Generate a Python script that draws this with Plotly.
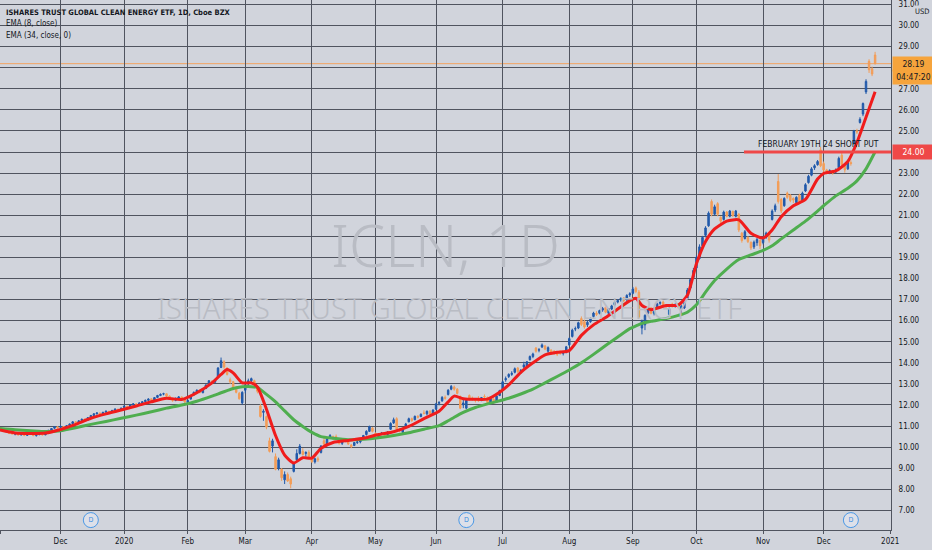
import pandas as pd
import plotly.graph_objects as go

# exchange holidays inside the visible window (no bar on these days)
holidays = ["2019-11-28", "2019-12-25", "2020-01-01", "2020-01-20", "2020-02-17",
            "2020-04-10", "2020-05-25", "2020-07-03", "2020-09-07", "2020-11-26"]
dates = pd.bdate_range("2019-11-01", "2020-12-24")
dates = dates[~dates.isin(pd.to_datetime(holidays))]

# daily candles: (open, high, low, close)
nov_2019 = [(10.90, 10.95, 10.80, 10.85), (10.86, 10.90, 10.76, 10.80), (10.80, 10.84, 10.70, 10.74),
            (10.72, 10.76, 10.62, 10.66), (10.68, 10.72, 10.60, 10.63), (10.62, 10.68, 10.56, 10.64),
            (10.64, 10.66, 10.55, 10.58), (10.58, 10.66, 10.55, 10.63), (10.62, 10.64, 10.52, 10.56),
            (10.56, 10.64, 10.53, 10.62), (10.63, 10.68, 10.58, 10.60), (10.60, 10.63, 10.52, 10.55),
            (10.55, 10.62, 10.50, 10.60), (10.60, 10.66, 10.56, 10.64), (10.64, 10.67, 10.55, 10.58),
            (10.58, 10.72, 10.57, 10.70), (10.72, 10.82, 10.70, 10.80), (10.80, 10.90, 10.78, 10.88),
            (10.90, 11.00, 10.86, 10.97), (10.96, 10.99, 10.88, 10.92)]
dec_2019 = [(10.94, 11.05, 10.90, 10.98), (10.98, 11.00, 10.86, 10.90), (10.92, 11.05, 10.90, 11.02),
            (11.02, 11.12, 11.00, 11.10), (11.12, 11.24, 11.10, 11.20), (11.20, 11.23, 11.10, 11.14),
            (11.15, 11.28, 11.13, 11.25), (11.26, 11.36, 11.24, 11.32), (11.33, 11.35, 11.22, 11.27),
            (11.28, 11.43, 11.26, 11.40), (11.42, 11.53, 11.40, 11.50), (11.50, 11.62, 11.48, 11.58),
            (11.58, 11.66, 11.55, 11.62), (11.62, 11.64, 11.52, 11.55), (11.56, 11.68, 11.54, 11.65),
            (11.66, 11.74, 11.63, 11.70), (11.70, 11.72, 11.60, 11.64), (11.64, 11.77, 11.62, 11.74),
            (11.75, 11.84, 11.72, 11.80), (11.80, 11.82, 11.70, 11.74), (11.74, 11.88, 11.72, 11.85)]
jan_2020 = [(11.88, 11.98, 11.84, 11.95), (11.94, 11.96, 11.84, 11.89), (11.90, 12.03, 11.88, 12.00),
            (12.00, 12.08, 11.97, 12.05), (12.05, 12.08, 11.96, 12.01), (12.02, 12.13, 12.00, 12.10),
            (12.10, 12.18, 12.06, 12.15), (12.16, 12.26, 12.14, 12.22), (12.22, 12.32, 12.20, 12.28),
            (12.29, 12.31, 12.20, 12.24), (12.24, 12.38, 12.22, 12.35), (12.36, 12.48, 12.34, 12.45),
            (12.45, 12.55, 12.42, 12.50), (12.52, 12.58, 12.46, 12.53), (12.53, 12.55, 12.38, 12.42),
            (12.42, 12.46, 12.30, 12.36), (12.30, 12.34, 12.15, 12.22), (12.22, 12.35, 12.18, 12.32),
            (12.33, 12.42, 12.30, 12.38), (12.38, 12.40, 12.22, 12.26), (12.26, 12.30, 12.10, 12.15)]
feb_2020 = [(12.12, 12.25, 12.08, 12.22), (12.28, 12.48, 12.26, 12.45), (12.48, 12.64, 12.44, 12.60),
            (12.60, 12.74, 12.56, 12.70), (12.70, 12.72, 12.55, 12.60), (12.58, 12.78, 12.56, 12.75),
            (12.78, 12.98, 12.76, 12.95), (12.98, 13.18, 12.96, 13.15), (13.12, 13.18, 13.02, 13.08),
            (13.08, 13.24, 13.05, 13.20), (13.30, 13.80, 13.28, 13.75), (13.78, 14.25, 13.75, 14.10),
            (14.05, 14.12, 13.72, 13.80), (13.75, 13.80, 13.40, 13.45), (13.20, 13.30, 13.00, 13.10),
            (13.10, 13.14, 12.70, 12.75), (12.80, 12.90, 12.55, 12.60), (12.55, 12.62, 12.25, 12.30),
            (12.10, 12.65, 12.02, 12.60)]
mar_2020 = [(12.70, 13.00, 12.55, 12.95), (13.00, 13.25, 12.90, 13.15), (13.15, 13.30, 13.05, 13.25),
            (13.15, 13.20, 12.90, 12.98), (12.80, 12.90, 12.55, 12.65), (11.95, 12.05, 11.40, 11.45),
            (11.65, 11.80, 11.25, 11.70), (11.45, 11.50, 10.85, 10.95), (10.30, 10.45, 9.75, 9.80),
            (10.05, 10.40, 9.75, 10.30), (9.55, 9.70, 8.90, 8.95), (9.00, 9.50, 8.90, 9.40),
            (8.95, 9.00, 8.40, 8.55), (8.45, 8.85, 8.25, 8.70), (8.70, 8.80, 8.35, 8.40),
            (8.50, 8.60, 8.05, 8.25), (8.85, 9.30, 8.80, 9.25), (9.40, 9.90, 9.35, 9.70),
            (9.70, 10.15, 9.65, 10.05), (9.80, 9.95, 9.60, 9.65), (9.70, 9.80, 9.55, 9.75),
            (9.75, 9.85, 9.50, 9.55)]
apr_2020 = [(9.40, 9.50, 9.25, 9.32), (9.30, 9.50, 9.22, 9.45), (9.45, 9.55, 9.30, 9.40),
            (9.75, 10.10, 9.70, 10.05), (10.30, 10.45, 10.10, 10.15), (10.15, 10.45, 10.10, 10.40),
            (10.45, 10.62, 10.40, 10.55), (10.50, 10.55, 10.35, 10.45), (10.50, 10.60, 10.40, 10.48),
            (10.35, 10.40, 10.12, 10.18), (10.18, 10.30, 10.10, 10.25), (10.35, 10.40, 10.22, 10.30),
            (10.25, 10.28, 10.10, 10.15), (10.10, 10.15, 9.95, 10.02), (10.08, 10.25, 10.05, 10.22),
            (10.22, 10.32, 10.15, 10.25), (10.25, 10.35, 10.18, 10.32), (10.40, 10.58, 10.38, 10.55),
            (10.60, 10.80, 10.55, 10.75), (10.75, 11.02, 10.72, 10.98), (10.90, 10.95, 10.70, 10.75)]
may_2020 = [(10.65, 10.70, 10.48, 10.52), (10.50, 10.62, 10.45, 10.60), (10.65, 10.72, 10.58, 10.66),
            (10.66, 10.70, 10.52, 10.56), (10.60, 10.76, 10.56, 10.72), (10.85, 11.18, 10.82, 11.12),
            (11.15, 11.40, 11.10, 11.30), (11.35, 11.42, 10.80, 10.85), (10.85, 10.92, 10.70, 10.78),
            (10.70, 10.92, 10.62, 10.88), (11.00, 11.15, 10.95, 11.10), (11.20, 11.40, 11.18, 11.35),
            (11.35, 11.40, 11.20, 11.26), (11.30, 11.50, 11.28, 11.46), (11.46, 11.52, 11.36, 11.42),
            (11.45, 11.60, 11.42, 11.56), (11.62, 11.75, 11.55, 11.60), (11.58, 11.74, 11.50, 11.70),
            (11.70, 11.76, 11.55, 11.58), (11.58, 11.80, 11.55, 11.76)]
jun_2020 = [(11.80, 12.10, 11.78, 12.05), (12.08, 12.18, 11.98, 12.12), (12.20, 12.42, 12.15, 12.36),
            (12.36, 12.45, 12.25, 12.32), (12.50, 12.75, 12.45, 12.70), (12.75, 12.95, 12.70, 12.88),
            (12.85, 12.92, 12.68, 12.75), (12.75, 12.80, 12.50, 12.55), (12.40, 12.45, 11.80, 11.85),
            (12.00, 12.25, 11.85, 12.10), (11.85, 12.28, 11.80, 12.22), (12.45, 12.50, 12.20, 12.32),
            (12.32, 12.40, 12.20, 12.26), (12.24, 12.30, 12.12, 12.22), (12.30, 12.42, 12.15, 12.20),
            (12.22, 12.38, 12.18, 12.35), (12.40, 12.50, 12.30, 12.38), (12.35, 12.40, 12.05, 12.12),
            (12.10, 12.30, 12.05, 12.28), (12.28, 12.32, 12.05, 12.10), (12.15, 12.45, 12.12, 12.42),
            (12.45, 12.72, 12.42, 12.68)]
jul_2020 = [(12.75, 13.15, 12.72, 13.10), (13.20, 13.35, 13.10, 13.25), (13.35, 13.50, 13.28, 13.45),
            (13.45, 13.60, 13.38, 13.50), (13.55, 13.78, 13.50, 13.72), (13.75, 13.80, 13.52, 13.58),
            (13.58, 13.70, 13.48, 13.65), (13.80, 14.05, 13.75, 13.90), (13.85, 14.08, 13.80, 14.05),
            (14.15, 14.35, 14.10, 14.30), (14.30, 14.48, 14.22, 14.42), (14.70, 14.75, 14.48, 14.55),
            (14.60, 14.70, 14.50, 14.62), (14.75, 14.92, 14.70, 14.85), (14.80, 14.85, 14.60, 14.65),
            (14.55, 14.78, 14.48, 14.72), (14.60, 14.65, 14.40, 14.48), (14.55, 14.60, 14.38, 14.45),
            (14.50, 14.55, 14.32, 14.40), (14.50, 14.58, 14.38, 14.46), (14.45, 14.55, 14.35, 14.50),
            (14.50, 14.80, 14.45, 14.76)]
aug_2020 = [(14.85, 15.20, 14.80, 15.15), (15.25, 15.62, 15.20, 15.55), (15.60, 15.72, 15.50, 15.62),
            (15.65, 15.95, 15.60, 15.90), (16.10, 16.20, 15.75, 15.82), (15.95, 16.05, 15.62, 15.70),
            (15.80, 16.00, 15.70, 15.92), (15.95, 16.15, 15.90, 16.08), (16.20, 16.42, 16.15, 16.36),
            (16.35, 16.45, 16.22, 16.30), (16.35, 16.52, 16.30, 16.48), (16.50, 16.65, 16.42, 16.58),
            (16.62, 16.70, 16.35, 16.40), (16.35, 16.60, 16.30, 16.56), (16.55, 16.75, 16.50, 16.70),
            (16.75, 16.92, 16.70, 16.86), (16.88, 17.02, 16.82, 16.96), (16.98, 17.10, 16.90, 17.06),
            (17.08, 17.12, 16.88, 16.95), (16.98, 17.25, 16.95, 17.20), (17.22, 17.35, 17.12, 17.28)]
sep_2020 = [(17.30, 17.60, 17.25, 17.50), (17.55, 17.62, 17.30, 17.38), (17.35, 17.45, 16.10, 16.18),
            (15.65, 16.05, 15.35, 15.98), (15.80, 16.30, 15.55, 16.25), (16.35, 16.60, 16.30, 16.55),
            (16.60, 16.65, 16.30, 16.35), (16.35, 16.50, 16.25, 16.45), (16.60, 16.85, 16.55, 16.80),
            (16.82, 16.92, 16.75, 16.86), (16.88, 16.95, 16.72, 16.76), (16.70, 16.78, 16.60, 16.70),
            (16.30, 16.62, 16.25, 16.55), (16.78, 16.85, 16.62, 16.70), (16.68, 16.82, 16.62, 16.76),
            (16.78, 16.82, 16.58, 16.62), (16.55, 16.75, 16.25, 16.68), (16.60, 16.90, 16.55, 16.85),
            (17.05, 17.55, 17.00, 17.45), (17.55, 18.02, 17.50, 17.95), (18.05, 18.50, 18.00, 18.38)]
oct_2020 = [(18.50, 19.10, 18.45, 19.00), (18.95, 19.62, 18.90, 19.50), (19.55, 20.02, 19.50, 19.95),
            (20.05, 20.48, 19.95, 20.40), (20.50, 21.18, 20.45, 21.10), (21.65, 21.75, 20.95, 21.05),
            (21.05, 21.50, 21.00, 21.40), (21.55, 21.62, 20.95, 21.05), (20.90, 20.95, 20.62, 20.72),
            (20.80, 21.22, 20.75, 21.15), (21.15, 21.20, 20.90, 20.95), (20.95, 21.25, 20.90, 21.20),
            (21.18, 21.22, 20.92, 20.98), (20.95, 21.25, 20.90, 21.20), (21.05, 21.10, 20.20, 20.30),
            (20.15, 20.20, 19.70, 19.80), (19.90, 20.30, 19.85, 20.22), (19.95, 20.00, 19.68, 19.75),
            (19.72, 19.75, 19.35, 19.45), (19.50, 19.80, 19.40, 19.72), (19.70, 19.92, 19.55, 19.85),
            (19.80, 19.85, 19.40, 19.55)]
nov_2020 = [(19.70, 20.02, 19.62, 19.95), (19.95, 20.22, 19.88, 20.15), (20.15, 20.20, 19.70, 19.82),
            (20.80, 21.28, 20.75, 21.20), (21.25, 21.55, 21.15, 21.45), (22.60, 22.95, 21.55, 21.65),
            (21.75, 21.82, 21.10, 21.20), (21.45, 21.85, 21.40, 21.80), (22.05, 22.12, 21.78, 21.85),
            (21.95, 22.00, 21.62, 21.70), (21.80, 21.85, 21.58, 21.72), (21.60, 21.90, 21.55, 21.85),
            (21.95, 22.02, 21.58, 21.65), (21.70, 22.12, 21.65, 22.05), (22.15, 22.52, 22.10, 22.45),
            (22.55, 22.92, 22.50, 22.85), (22.90, 23.28, 22.85, 23.20), (23.25, 23.42, 23.15, 23.35),
            (23.40, 23.62, 23.35, 23.55), (24.10, 24.25, 23.28, 23.35)]
dec_2020 = [(23.45, 23.55, 23.05, 23.15), (23.15, 23.20, 22.95, 23.05), (23.00, 23.18, 22.95, 23.12),
            (23.12, 23.15, 22.92, 23.00), (23.05, 23.22, 23.00, 23.15), (23.25, 23.78, 23.20, 23.70),
            (23.85, 24.00, 23.35, 23.40), (23.35, 23.38, 23.02, 23.15), (23.20, 23.55, 23.15, 23.50),
            (23.50, 23.60, 23.35, 23.45), (24.40, 25.05, 24.35, 25.00), (25.00, 25.10, 24.85, 24.95),
            (25.40, 25.65, 25.35, 25.55), (25.80, 26.35, 25.70, 26.30), (26.85, 27.45, 26.75, 27.35),
            (28.30, 28.40, 27.75, 27.90), (27.95, 28.05, 27.60, 27.70), (28.60, 28.75, 28.15, 28.19)]

bars = (nov_2019 + dec_2019 + jan_2020 + feb_2020 + mar_2020 + apr_2020 + may_2020
        + jun_2020 + jul_2020 + aug_2020 + sep_2020 + oct_2020 + nov_2020 + dec_2020)

ema_bar = [0, 5, 10, 15, 20, 25, 30, 35, 40, 45, 50, 55, 60, 65, 70, 73, 75, 77, 80, 83, 85,
           88, 91, 94, 97, 100, 103, 106, 110, 115, 120, 125, 130, 135, 140, 145, 148, 150,
           153, 157, 161, 165, 168, 172, 176, 180, 184, 188, 192, 196, 200, 204, 208, 210,
           212, 215, 220, 224, 227, 230, 233, 236, 240, 244, 248, 252, 255, 258, 262, 266,
           270, 272, 276, 280, 283, 286, 289]
ema8 = [10.81, 10.67, 10.65, 10.67, 10.84, 11.08, 11.37, 11.58, 11.76, 11.95, 12.15, 12.32,
        12.26, 12.58, 13.05, 13.45, 13.68, 13.52, 13.05, 13.05, 12.85, 11.80, 10.55, 9.62,
        9.25, 9.50, 9.48, 9.94, 10.22, 10.32, 10.42, 10.60, 10.73, 10.98, 11.35, 11.70, 12.15,
        12.42, 12.30, 12.27, 12.28, 12.60, 12.95, 13.55, 14.00, 14.38, 14.50, 14.58, 15.30,
        15.80, 16.15, 16.55, 16.95, 17.06, 16.72, 16.52, 16.72, 16.74, 17.20, 18.70, 19.75,
        20.35, 20.72, 20.78, 20.15, 19.92, 20.30, 20.93, 21.45, 21.75, 22.72, 22.98, 23.10,
        23.55, 24.45, 25.65, 26.86]
ema34 = [10.88, 10.82, 10.78, 10.74, 10.78, 10.92, 11.08, 11.22, 11.37, 11.52, 11.68, 11.85,
         12.00, 12.18, 12.42, 12.58, 12.68, 12.78, 12.86, 12.87, 12.83, 12.50, 12.15, 11.72,
         11.30, 10.98, 10.70, 10.50, 10.42, 10.35, 10.38, 10.45, 10.55, 10.68, 10.85, 11.02,
         11.25, 11.42, 11.65, 11.88, 12.05, 12.20, 12.32, 12.52, 12.75, 13.05, 13.35, 13.66,
         14.00, 14.40, 14.82, 15.22, 15.62, 15.75, 15.87, 15.97, 16.10, 16.25, 16.40, 16.75,
         17.35, 17.90, 18.45, 18.90, 19.12, 19.33, 19.55, 19.88, 20.30, 20.72, 21.20, 21.45,
         21.92, 22.28, 22.63, 23.20, 24.01]

# dividend (ex-date) markers along the bottom
dividends = ["2019-12-16", "2020-06-15", "2020-12-14"]

tick_labels = ["Nov", "Dec", "2020", "Feb", "Mar", "Apr", "May", "Jun", "Jul", "Aug",
               "Sep", "Oct", "Nov", "Dec", "2021"]
price_ticks = list(range(7, 32))

last_price = 28.19
short_put = 24.00

bg = "#d1d4dc"
grid = "#50545f"
ink = "#131722"
up = "#2159aa"
down = "#f39d58"
narrow = "Liberation Sans Narrow, DejaVu Sans Condensed, Roboto Condensed, Arial Narrow, sans-serif"

x = list(range(len(bars)))
month_pos = [i for i in range(len(dates)) if i == 0 or dates[i].month != dates[i - 1].month]
month_pos.append(len(dates) + 4)  # first session of 2021 (Dec 28-31 still to come)
div_pos = [dates.get_loc(pd.Timestamp(d)) for d in dividends]
# scale labels hidden where the price boxes sit on top of them
price_text = ["" if abs(v - last_price) < 0.5 or v == short_put else f"{v:.2f}" for v in price_ticks]

fig = go.Figure()

fig.add_trace(go.Candlestick(
    x=x,
    open=[b[0] for b in bars], high=[b[1] for b in bars],
    low=[b[2] for b in bars], close=[b[3] for b in bars],
    increasing=dict(line=dict(color=up, width=1), fillcolor=up),
    decreasing=dict(line=dict(color=down, width=1), fillcolor=down),
    whiskerwidth=0, hoverinfo="skip",
))
fig.add_trace(go.Scatter(x=ema_bar, y=ema34, mode="lines",
                         line=dict(color="#4fae4f", width=3, shape="spline", smoothing=0.6),
                         hoverinfo="skip"))
fig.add_trace(go.Scatter(x=ema_bar, y=ema8, mode="lines",
                         line=dict(color="#f01c1c", width=3, shape="spline", smoothing=0.6),
                         hoverinfo="skip"))
fig.add_trace(go.Scatter(
    x=div_pos, y=[6.54] * len(div_pos), mode="markers+text", text=["D"] * len(div_pos),
    textposition="middle center", textfont=dict(size=7, color="#3a8ee0", family=narrow),
    marker=dict(size=15, color="rgba(235,240,248,0.45)", line=dict(color="#4a98e6", width=1)),
    hoverinfo="skip", cliponaxis=False,
))

# last price line and the short put level
fig.add_shape(type="line", xref="paper", x0=0, x1=1, y0=last_price, y1=last_price,
              line=dict(color="#f2a462", width=1), layer="below")
fig.add_shape(type="line", xref="x", x0=245.7, x1=294.3, y0=short_put, y1=short_put,
              line=dict(color="#ef4848", width=3))

box = dict(xref="paper", yref="y", x=1, xanchor="left", xshift=1, showarrow=False,
           width=39, height=12, align="center")
annotations = [
    # watermark
    dict(text="ICLN, 1D", xref="paper", yref="paper", x=0.5, y=0.538, showarrow=False,
         font=dict(size=58, color="#b9bcc4", family="Noto Sans", weight=300)),
    dict(text="ISHARES TRUST GLOBAL CLEAN ENERGY ETF", xref="paper", yref="paper",
         x=0.505, y=0.42, showarrow=False,
         font=dict(size=29, color="#b9bcc4", family="Noto Sans", weight=300)),
    # legend block
    dict(text="<b>ISHARES TRUST GLOBAL CLEAN ENERGY ETF, 1D, Cboe BZX</b>", xref="paper",
         yref="paper", x=0.005, y=1, yshift=-6, xanchor="left", yanchor="top", showarrow=False,
         font=dict(size=7.5, color=ink, family=narrow)),
    dict(text="EMA (8, close)", xref="paper", yref="paper", x=0.005, y=1, yshift=-17,
         xanchor="left", yanchor="top", showarrow=False, font=dict(size=8, color=ink, family=narrow)),
    dict(text="EMA (34, close, 0)", xref="paper", yref="paper", x=0.005, y=1, yshift=-29,
         xanchor="left", yanchor="top", showarrow=False, font=dict(size=8, color=ink, family=narrow)),
    # drawing label
    dict(text="FEBRUARY 19TH 24 SHORT PUT", xref="x", yref="y", x=270.2, y=short_put,
         yanchor="bottom", yshift=1, showarrow=False, font=dict(size=8.5, color=ink, family=narrow)),
    # price scale labels
    dict(box, text="28.19", y=last_price, bgcolor="#f6a43c",
         font=dict(size=8.5, color=ink, family=narrow)),
    dict(box, text="04:47:20", y=last_price, yshift=-13, bgcolor="#f6a43c",
         font=dict(size=8.5, color=ink, family=narrow)),
    dict(box, text="24.00", y=short_put, bgcolor="#ef4848",
         font=dict(size=8.5, color="white", family=narrow)),
    dict(text="USD", xref="paper", yref="paper", x=1, y=1, xanchor="left", yanchor="top",
         xshift=22, yshift=-5, showarrow=False, bgcolor=bg,
         font=dict(size=7.5, color=ink, family=narrow)),
]

fig.update_layout(
    width=932, height=550,
    margin=dict(l=0, r=41, t=0, b=20),
    paper_bgcolor=bg, plot_bgcolor=bg,
    showlegend=False, hovermode=False,
    font=dict(family=narrow, size=8, color=ink),
    annotations=annotations,
    xaxis=dict(range=[0, 294.25], tickmode="array", tickvals=month_pos, ticktext=tick_labels,
               showgrid=True, gridcolor=grid, gridwidth=1, zeroline=False, showline=True,
               linecolor=grid, ticks="outside", ticklen=3, tickcolor=grid,
               rangeslider=dict(visible=False), fixedrange=True,
               tickfont=dict(size=8, color=ink, family=narrow)),
    yaxis=dict(side="right", range=[6.07, 31.21], tickmode="array", tickvals=price_ticks,
               ticktext=price_text, showgrid=True, gridcolor=grid, gridwidth=1, zeroline=False,
               showline=True, linecolor=grid, ticks="", ticklabelstandoff=5, fixedrange=True,
               tickfont=dict(size=8, color=ink, family=narrow)),
)

# the page body has an 8px default margin; drop it so the chart sits at the window corner
fig.write_html("out.html", config={"displayModeBar": False},
               post_script="document.body.style.margin = '0px';")
